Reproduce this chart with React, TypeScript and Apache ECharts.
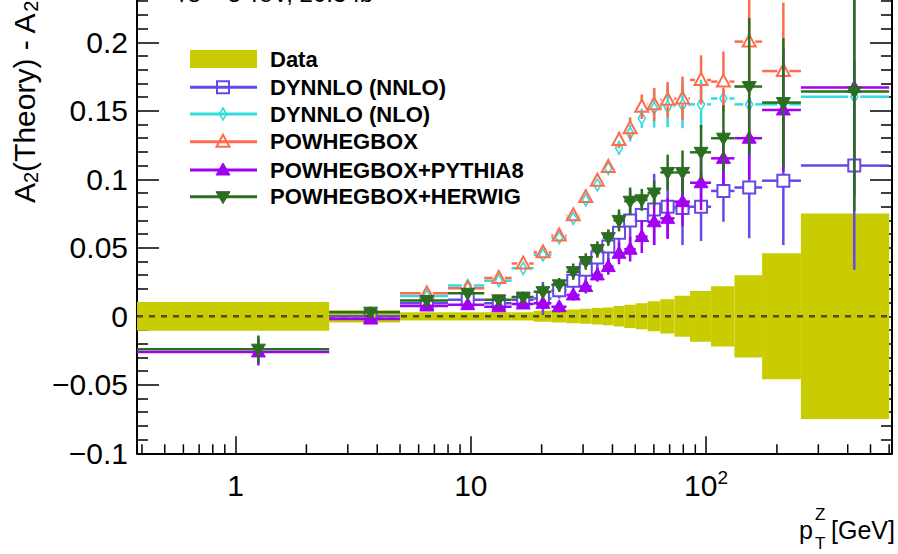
import React, { useEffect, useRef } from 'react';
import * as echarts from 'echarts';

// ---------------- data ----------------
const binEdges = [0, 2.5, 5, 8, 11.4, 14.9, 18.5, 22, 25.5, 29, 32.6, 36.4, 40.4, 44.9, 50.2, 56.4, 63.9, 73.4, 85.4, 105, 132, 173, 253, 600];

const dataUncertainty = [0.0105, 0.0045, 0.003, 0.003, 0.003, 0.003, 0.004, 0.0045, 0.005, 0.0055, 0.006, 0.0065, 0.0075, 0.0085, 0.0095, 0.011, 0.0125, 0.015, 0.0185, 0.022, 0.030, 0.046, 0.075];

const nnloValues = [null, 0.000, 0.0095, 0.012, 0.0095, 0.012, 0.013, 0.019, 0.026, 0.034, 0.043, 0.051, 0.061, 0.070, 0.074, 0.078, 0.080, 0.079, 0.080, 0.0915, 0.094, 0.099, 0.110];
const nnloErrors = [null, 0.003, 0.003, 0.003, 0.004, 0.006, 0.012, 0.006, 0.007, 0.008, 0.010, 0.012, 0.015, 0.022, 0.015, 0.026, 0.023, 0.027, 0.025, 0.0225, 0.037, 0.047, 0.076];

const nloValues = [null, null, 0.0148, 0.0225, 0.026, 0.035, 0.0448, 0.0574, 0.0715, 0.0849, 0.0959, 0.108, 0.123, 0.1336, 0.1445, 0.1518, 0.153, 0.1543, 0.1547, 0.159, 0.1547, 0.1547, 0.1603];
const nloErrors = [null, null, 0.002, 0.002, 0.002, 0.002, 0.002, 0.003, 0.003, 0.003, 0.004, 0.004, 0.005, 0.006, 0.007, 0.014, 0.015, 0.017, 0.018, 0.006, 0.005, 0.004, 0.003];

const powhegValues = [null, null, 0.0168, 0.0205, 0.028, 0.0385, 0.0467, 0.059, 0.0737, 0.087, 0.099, 0.109, 0.1287, 0.1372, 0.153, 0.1547, 0.158, 0.159, 0.1725, 0.1713, 0.2005, 0.179, null];
const powhegErrors = [null, null, 0.002, 0.002, 0.002, 0.002, 0.003, 0.003, 0.003, 0.003, 0.004, 0.004, 0.006, 0.008, 0.009, 0.012, 0.013, 0.016, 0.018, 0.022, 0.04, 0.05, null];

const pythiaValues = [-0.026, -0.002, 0.0075, 0.0085, 0.007, 0.009, 0.0095, 0.007, 0.0156, 0.0217, 0.0302, 0.0363, 0.046, 0.049, 0.0582, 0.069, 0.0715, 0.0837, 0.0975, 0.1153, 0.130, 0.1506, 0.167];
const pythiaErrors = [0.010, 0.003, 0.003, 0.003, 0.003, 0.003, 0.004, 0.004, 0.004, 0.005, 0.005, 0.006, 0.008, 0.009, 0.012, 0.017, 0.015, 0.018, 0.02, 0.02, 0.03, 0.045, 0.08];

const herwigValues = [-0.024, 0.003, 0.0115, 0.0168, 0.012, 0.014, 0.018, 0.023, 0.0326, 0.040, 0.0487, 0.0574, 0.070, 0.084, 0.085, 0.090, 0.105, 0.105, 0.1197, 0.130, 0.1677, 0.156, 0.164];
const herwigErrors = [0.010, 0.004, 0.003, 0.003, 0.003, 0.004, 0.005, 0.005, 0.006, 0.006, 0.006, 0.006, 0.008, 0.010, 0.008, 0.009, 0.013, 0.016, 0.020, 0.024, 0.05, 0.047, 0.087];

const yTickValues = [-0.1, -0.05, 0, 0.05, 0.1, 0.15, 0.2];
const yTickLabels = ['\u22120.1', '\u22120.05', '0', '0.05', '0.1', '0.15', '0.2'];
const xTickValues = [1, 10, 100];
const xTickLabels = ['{n|1}', '{n|10}', '{n|10}{s|2}'];
const xMinorTicks = [0.4, 0.5, 0.6, 0.7, 0.8, 0.9, 2, 3, 4, 5, 6, 7, 8, 9, 20, 30, 40, 50, 60, 70, 80, 90, 200, 300, 400, 500, 600];

// ---------------- style ----------------
const XMIN = 0.381;
const XMAX = 617;
const YMIN = -0.1;
const YMAX = 0.25;
const FONT = '"Liberation Sans", Arial, Helvetica, sans-serif';
const DATA_COLOR = '#c8cc00';
const LW = 2.5;

type Def = { name: string; values: (number | null)[]; errors: (number | null)[]; color: string; marker: string; open: boolean };

const defs: Def[] = [
  { name: 'DYNNLO (NNLO)', values: nnloValues, errors: nnloErrors, color: '#6648e6', marker: 'openSquare', open: true },
  { name: 'DYNNLO (NLO)', values: nloValues, errors: nloErrors, color: '#33dcdc', marker: 'openDiamond', open: true },
  { name: 'POWHEGBOX', values: powhegValues, errors: powhegErrors, color: '#ff6b4d', marker: 'openTriangle', open: true },
  { name: 'POWHEGBOX+PYTHIA8', values: pythiaValues, errors: pythiaErrors, color: '#a100f2', marker: 'fullTriangle', open: false },
  { name: 'POWHEGBOX+HERWIG', values: herwigValues, errors: herwigErrors, color: '#2b6e1f', marker: 'fullTriangleDown', open: false },
];

function markerShape(kind: string, cx: number, cy: number, color: string): any {
  switch (kind) {
    case 'openSquare':
      return { type: 'rect', shape: { x: cx - 6, y: cy - 6, width: 12, height: 12 }, style: { fill: 'none', stroke: color, lineWidth: 2 } };
    case 'openDiamond':
      return { type: 'polygon', shape: { points: [[cx, cy - 6], [cx + 3.5, cy], [cx, cy + 6], [cx - 3.5, cy]] }, style: { fill: 'none', stroke: color, lineWidth: 1.6 } };
    case 'openTriangle':
      return { type: 'polygon', shape: { points: [[cx, cy - 7], [cx + 6.5, cy + 5], [cx - 6.5, cy + 5]] }, style: { fill: 'none', stroke: color, lineWidth: 2 } };
    case 'fullTriangle':
      return { type: 'polygon', shape: { points: [[cx, cy - 7], [cx + 7, cy + 5], [cx - 7, cy + 5]] }, style: { fill: color, stroke: color, lineWidth: 1 } };
    default:
      return { type: 'polygon', shape: { points: [[cx, cy + 7], [cx + 7, cy - 5], [cx - 7, cy - 5]] }, style: { fill: color, stroke: color, lineWidth: 1 } };
  }
}

function theorySeries(def: Def, z: number): any {
  const data: number[][] = [];
  def.values.forEach((v, i) => {
    if (v === null) return;
    const lo = Math.max(binEdges[i], XMIN);
    const hi = binEdges[i + 1];
    const c = (binEdges[i] + binEdges[i + 1]) / 2;
    data.push([lo, hi, c, v, def.errors[i] as number]);
  });
  const gap = def.open ? 6 : 0;
  return {
    type: 'custom',
    name: def.name,
    z,
    silent: true,
    clip: true,
    data,
    encode: { x: [0, 1, 2], y: [3] },
    renderItem: (params: any, api: any) => {
      const lo = api.value(0), hi = api.value(1), c = api.value(2), v = api.value(3), e = api.value(4);
      const pc = api.coord([c, v]);
      const pl = api.coord([lo, v]);
      const ph = api.coord([hi, v]);
      const pt = api.coord([c, v + e]);
      const pb = api.coord([c, v - e]);
      const ls = { stroke: def.color, lineWidth: LW };
      const kids: any[] = [];
      const seg = (x1: number, y1: number, x2: number, y2: number) => kids.push({ type: 'line', shape: { x1, y1, x2, y2 }, style: ls });
      if (pc[0] - gap > pl[0]) seg(pl[0], pc[1], pc[0] - gap, pc[1]);
      if (ph[0] > pc[0] + gap) seg(pc[0] + gap, pc[1], ph[0], pc[1]);
      if (pt[1] < pc[1] - gap) seg(pc[0], pt[1], pc[0], pc[1] - gap);
      if (pb[1] > pc[1] + gap) seg(pc[0], pc[1] + gap, pc[0], pb[1]);
      kids.push(markerShape(def.marker, pc[0], pc[1], def.color));
      return { type: 'group', children: kids };
    },
  };
}

function buildOption(): any {
  const bandData = dataUncertainty.map((u, i) => [Math.max(binEdges[i], XMIN), binEdges[i + 1], u]);

  const yLabel = (v: number) => {
    const idx = yTickValues.findIndex((t) => Math.abs(t - v) < 1e-9);
    return idx >= 0 ? yTickLabels[idx] : '';
  };
  const xLabel = (v: number) => {
    const idx = xTickValues.findIndex((t) => Math.abs(t - v) / t < 1e-6);
    return idx >= 0 ? xTickLabels[idx] : '';
  };

  const yAxisCommon = {
    type: 'value',
    min: YMIN,
    max: YMAX,
    interval: 0.05,
    splitLine: { show: false },
    axisLine: { show: true, onZero: false, lineStyle: { color: '#000', width: 2 } },
    axisTick: { show: true, inside: true, length: 22, lineStyle: { color: '#000', width: 1.5 } },
    minorTick: { show: true, splitNumber: 5, length: 11, lineStyle: { color: '#000', width: 1.5 } },
  };

  const legendY = [87.3, 114, 141.7, 170, 196.7];
  const legendGraphics: any[] = [
    { type: 'rect', shape: { x: 190, y: 50, width: 67, height: 18 }, style: { fill: DATA_COLOR } },
    { type: 'text', x: 270, y: 59, style: { text: 'Data', font: `bold 22px ${FONT}`, fill: '#000', verticalAlign: 'middle', align: 'left' } },
  ];
  defs.forEach((d, i) => {
    const y = legendY[i];
    legendGraphics.push({ type: 'line', shape: { x1: 190, y1: y, x2: 257, y2: y }, style: { stroke: d.color, lineWidth: 3 } });
    legendGraphics.push(markerShape(d.marker, 223, y, d.color));
    legendGraphics.push({ type: 'text', x: 270, y, style: { text: d.name, font: `bold 22px ${FONT}`, fill: '#000', verticalAlign: 'middle', align: 'left' } });
  });

  return {
    animation: false,
    backgroundColor: '#fff',
    grid: { left: 137, right: 6, top: -26.2, bottom: 100.7, containLabel: false, outerBoundsMode: 'none' },
    xAxis: {
      type: 'log',
      logBase: 10,
      min: XMIN,
      max: XMAX,
      splitLine: { show: false },
      axisLine: { show: true, onZero: false, lineStyle: { color: '#000', width: 2 } },
      axisTick: { show: true, inside: true, length: 17, lineStyle: { color: '#000', width: 1.5 } },
      minorTick: { show: false },
      axisLabel: {
        show: true,
        margin: 15,
        formatter: xLabel,
        rich: {
          n: { fontSize: 30, fontFamily: FONT, color: '#000', lineHeight: 34 },
          s: { fontSize: 19, fontFamily: FONT, color: '#000', lineHeight: 14, verticalAlign: 'top' },
        },
      },
    },
    yAxis: [
      {
        ...yAxisCommon,
        position: 'left',
        axisLabel: { show: true, margin: 9, fontSize: 30, fontFamily: FONT, color: '#000', formatter: yLabel },
      },
      {
        ...yAxisCommon,
        position: 'right',
        axisLabel: { show: false },
      },
    ],
    series: [
      {
        type: 'custom',
        name: 'Data',
        z: 1,
        silent: true,
        clip: true,
        data: bandData,
        encode: { x: [0, 1], y: [2] },
        renderItem: (params: any, api: any) => {
          const lo = api.value(0), hi = api.value(1), u = api.value(2);
          const p1 = api.coord([lo, u]);
          const p2 = api.coord([hi, -u]);
          return { type: 'rect', shape: { x: p1[0], y: p1[1], width: p2[0] - p1[0], height: p2[1] - p1[1] }, style: { fill: DATA_COLOR } };
        },
      },
      {
        type: 'line',
        name: 'zero',
        z: 2,
        silent: true,
        symbol: 'none',
        data: [[XMIN, 0], [XMAX, 0]],
        lineStyle: { color: '#4f4d1c', width: 2.5, type: [6, 6] },
      },
      ...defs.map((d, i) => theorySeries(d, 3 + i)),
      {
        type: 'custom',
        name: 'minorTicks',
        z: 10,
        silent: true,
        clip: false,
        data: xMinorTicks.map((v) => [v, YMIN]),
        encode: { x: [0], y: [1] },
        renderItem: (params: any, api: any) => {
          const p = api.coord([api.value(0), api.value(1)]);
          return { type: 'line', shape: { x1: p[0], y1: p[1], x2: p[0], y2: p[1] - 9 }, style: { stroke: '#000', lineWidth: 1.5 } };
        },
      },
    ],
    graphic: [
      ...legendGraphics.map((g) => ({ ...g, z: 100 })),
      {
        type: 'text', z: 100, x: 24, y: 203, rotation: Math.PI / 2,
        style: {
          text: '{a|A}{b|2}{a|(Theory) - A}{b|2}{a|(Data)}',
          align: 'left', verticalAlign: 'middle', fill: '#000',
          rich: {
            a: { fontSize: 30, fontFamily: FONT, color: '#000', lineHeight: 34 },
            b: { fontSize: 20, fontFamily: FONT, color: '#000', lineHeight: 16, verticalAlign: 'bottom' },
          },
        },
      },
      {
        type: 'text', z: 100, x: 175, y: -7,
        style: { text: '\u221As = 8 TeV, 20.3 fb\u207B\u00B9', font: `24px ${FONT}`, fill: '#000', align: 'left', verticalAlign: 'middle' },
      },
      { type: 'text', z: 100, x: 799, y: 530, style: { text: 'p', font: `25px ${FONT}`, fill: '#000', align: 'left', verticalAlign: 'middle' } },
      { type: 'text', z: 100, x: 815, y: 514, style: { text: 'Z', font: `17px ${FONT}`, fill: '#000', align: 'left', verticalAlign: 'middle' } },
      { type: 'text', z: 100, x: 815, y: 543, style: { text: 'T', font: `17px ${FONT}`, fill: '#000', align: 'left', verticalAlign: 'middle' } },
      { type: 'text', z: 100, x: 831, y: 530, style: { text: '[GeV]', font: `25px ${FONT}`, fill: '#000', align: 'left', verticalAlign: 'middle' } },
    ],
  };
}

export default function App() {
  const ref = useRef<HTMLDivElement>(null);
  useEffect(() => {
    if (!ref.current) return;
    const chart = echarts.init(ref.current, null, { renderer: 'svg' });
    chart.setOption(buildOption());
    return () => chart.dispose();
  }, []);
  return <div ref={ref} style={{ position: 'fixed', left: 0, top: 0, width: 898, height: 554, background: '#fff' }} />;
}
